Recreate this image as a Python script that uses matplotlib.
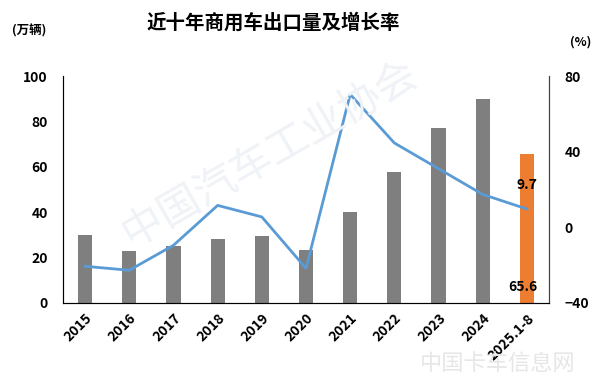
import matplotlib.pyplot as plt

plt.rcParams['font.family'] = ['Noto Sans CJK SC', 'DejaVu Sans']

years = ['2015', '2016', '2017', '2018', '2019', '2020',
         '2021', '2022', '2023', '2024', '2025.1-8']
volume = [30.0, 22.9, 25.1, 28.0, 29.7, 23.3, 40.0, 57.9, 77.0, 89.9, 65.6]
growth = [-20.6, -22.7, -9.5, 11.6, 5.5, -21.7, 70.3, 44.6, 31.0, 17.4, 9.7]

gray = '#7f7f7f'
orange = '#ed7d31'
blue = '#5b9bd5'

fig = plt.figure(figsize=(6, 3.84), dpi=100)
ax = fig.add_axes([0.105, 0.211, 0.81, 0.591])
x = list(range(len(years)))
colors = [gray] * (len(years) - 1) + [orange]
ax.bar(x, volume, width=0.32, color=colors, zorder=2)
ax.set_ylim(0, 100)
ax.set_xlim(-0.5, len(years) - 0.5)
ax.set_yticks([0, 20, 40, 60, 80, 100])
ax.set_xticks(x)
ax.set_xticklabels(years, rotation=45, ha='right', rotation_mode='anchor')
ax.tick_params(axis='y', length=0, labelsize=10, pad=11)
ax.tick_params(axis='x', length=0, labelsize=10, pad=6)
for lab in ax.get_xticklabels() + ax.get_yticklabels():
    lab.set_fontweight('bold')
ax.spines['top'].set_visible(False)
for s in ['left', 'bottom', 'right']:
    ax.spines[s].set_color('#404040')
    ax.spines[s].set_linewidth(0.8)

ax2 = ax.twinx()
ax2.plot(x, growth, color=blue, linewidth=2, zorder=3)
ax2.set_ylim(-40, 80)
ax2.set_yticks([-40, 0, 40, 80])
ax2.tick_params(length=0, labelsize=10, pad=11)
for lab in ax2.get_yticklabels():
    lab.set_fontweight('bold')
ax2.spines['top'].set_visible(False)
ax2.spines['right'].set_color('#404040')
ax2.spines['right'].set_linewidth(0.8)

ax2.annotate(f'{growth[-1]}', (x[-1], growth[-1]), xytext=(0, 12),
             textcoords='offset points', ha='center', va='bottom',
             fontsize=10, fontweight='bold')
ax.text(x[-1] - 0.1, 4, f'{volume[-1]}', ha='center', va='bottom',
        fontsize=10, fontweight='bold')

fig.text(0.455, 0.94, '近十年商用车出口量及增长率', ha='center', va='center',
         fontsize=14, fontweight='bold')
fig.text(0.02, 0.92, '(万辆)', ha='left', va='center', fontsize=9, fontweight='bold')
fig.text(0.985, 0.89, '(%)', ha='right', va='center', fontsize=9, fontweight='bold')

# faint watermarks
fig.text(0.45, 0.6, '中国汽车工业协会', rotation=30, ha='center', va='center',
         fontsize=30, color='#eff2f6', zorder=0)
fig.text(0.83, 0.05, '中国卡车信息网', ha='center', va='center',
         fontsize=16, color='#e6e6e6')

fig.savefig('out.png', dpi=100)
